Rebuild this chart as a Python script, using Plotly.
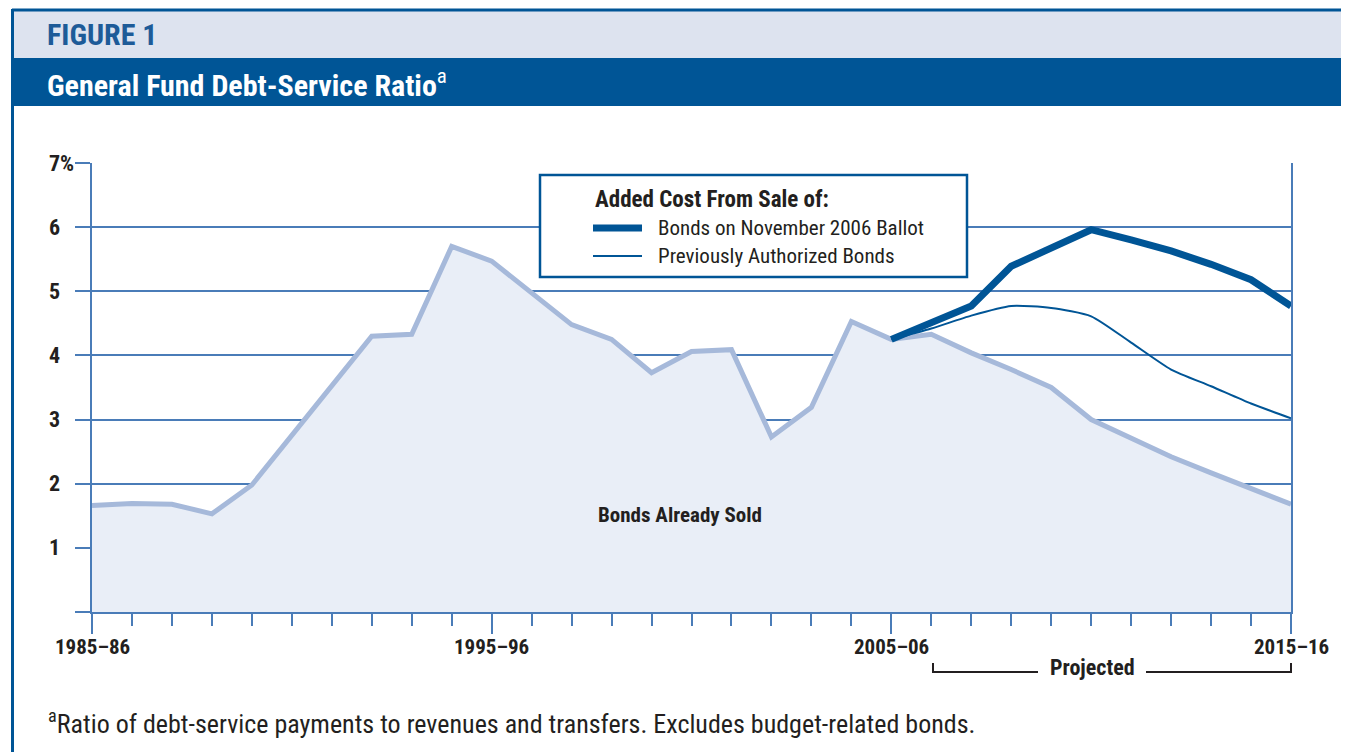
import plotly.graph_objects as go

# ---------------- data ----------------
start_years = list(range(1985, 2016))          # fiscal year start, 1985-86 ... 2015-16
tick_years = [1985, 1995, 2005, 2015]
tick_labels = ["1985–86", "1995–96", "2005–06", "2015–16"]

bonds_already_sold = [1.66, 1.69, 1.68, 1.53, 1.98, 2.75, 3.52, 4.30, 4.33, 5.70,
                      5.47, 4.97, 4.48, 4.25, 3.73, 4.06, 4.09, 2.73, 3.19, 4.53,
                      4.25, 4.33, 4.04, 3.78, 3.50, 3.00, 2.72, 2.42, 2.17, 1.93,
                      1.68]
proj_years = list(range(2005, 2016))
previously_authorized = [4.25, 4.42, 4.62, 4.77, 4.74, 4.61, 4.20, 3.78, 3.52, 3.25, 3.02]
november_2006_ballot = [4.25, 4.50, 4.77, 5.39, 5.68, 5.96, 5.80, 5.63, 5.42, 5.18, 4.77]

y_ticks = [0, 1, 2, 3, 4, 5, 6, 7]
y_labels = ["", "1", "2", "3", "4", "5", "6", "7%"]

# ---------------- styling ----------------
OFF = 8                      # page body margin
W, H = 1349 - OFF, 752 - OFF
PL, PR, PT, PB = 92, 1291, 163, 612   # plot area in page pixels
L, T = PL - OFF, PT - OFF
R = W - L - (PR - PL)
B = H - T - (PB - PT)
FONT = "Liberation Sans Narrow, Roboto Condensed, DejaVu Sans Condensed, Arial Narrow, Roboto, sans-serif"
DARK = "#005596"
GRID = "#4a7cb8"
TXT = "#231f20"
LIGHT_LINE = "#a6b9da"
FILL = "#e9eef7"


def px(x):
    return (x - PL) / (PR - PL)


def py(y):
    return (PB - y) / (PB - PT)


fig = go.Figure()
fig.add_trace(go.Scatter(x=start_years, y=bonds_already_sold, mode="lines",
                         line=dict(color=LIGHT_LINE, width=5), fill="tozeroy",
                         fillcolor=FILL, name="Bonds Already Sold", hoverinfo="skip"))
fig.add_trace(go.Scatter(x=proj_years, y=previously_authorized, mode="lines",
                         line=dict(color=DARK, width=2, shape="spline", smoothing=0.6),
                         name="Previously Authorized Bonds"))
fig.add_trace(go.Scatter(x=proj_years, y=november_2006_ballot, mode="lines",
                         line=dict(color=DARK, width=7), name="Bonds on November 2006 Ballot"))

shapes = []
# header bands
shapes.append(dict(type="rect", xref="paper", yref="paper", x0=px(12), x1=px(1360),
                   y0=py(58), y1=py(10), fillcolor="#dde3ef", line=dict(width=0), layer="below"))
shapes.append(dict(type="rect", xref="paper", yref="paper", x0=px(12), x1=px(1360),
                   y0=py(106), y1=py(58), fillcolor=DARK, line=dict(width=0), layer="below"))
shapes.append(dict(type="line", xref="paper", yref="paper", x0=px(12), x1=px(1360),
                   y0=py(10), y1=py(10), line=dict(color=DARK, width=3)))
shapes.append(dict(type="line", xref="paper", yref="paper", x0=px(12.5), x1=px(12.5),
                   y0=py(9), y1=py(760), line=dict(color=DARK, width=3)))
# legend box
shapes.append(dict(type="rect", xref="paper", yref="paper", x0=px(540), x1=px(967),
                   y0=py(277), y1=py(175), fillcolor="white", line=dict(color=DARK, width=2.5),
                   layer="above"))
shapes.append(dict(type="line", xref="paper", yref="paper", x0=px(593), x1=px(642),
                   y0=py(228), y1=py(228), line=dict(color=DARK, width=7)))
shapes.append(dict(type="line", xref="paper", yref="paper", x0=px(593), x1=px(642),
                   y0=py(256), y1=py(256), line=dict(color=DARK, width=2)))
# projected bracket
for x0, x1 in [(933, 1038), (1146, 1292)]:
    shapes.append(dict(type="line", xref="paper", yref="paper", x0=px(x0), x1=px(x1),
                       y0=py(672), y1=py(672), line=dict(color=TXT, width=2)))
for xx in [933, 1291]:
    shapes.append(dict(type="line", xref="paper", yref="paper", x0=px(xx), x1=px(xx),
                       y0=py(663), y1=py(673), line=dict(color=TXT, width=2)))

ann = []
ann.append(dict(text="<b>FIGURE 1</b>", x=px(45), y=py(35), xanchor="left", yanchor="middle",
                font=dict(family=FONT, size=30, color="#1d5b98")))
ann.append(dict(text="<b>General Fund Debt-Service Ratio</b><sup>a</sup>", x=px(45), y=py(83),
                xanchor="left", yanchor="middle", font=dict(family=FONT, size=30, color="white")))
for v, lab in zip(y_ticks, y_labels):
    if lab:
        ann.append(dict(text="<b>%s</b>" % lab, x=px(47), y=v, yref="y", xanchor="left",
                        yanchor="middle", font=dict(family=FONT, size=22, color=TXT)))
for v, lab in zip(tick_years, tick_labels):
    ann.append(dict(text="<b>%s</b>" % lab, x=v, xref="x", y=py(647), xanchor="center",
                    yanchor="middle", font=dict(family=FONT, size=21, color=TXT)))
ann.append(dict(text="<b>Added Cost From Sale of:</b>", x=px(593), y=py(199), xanchor="left",
                yanchor="middle", font=dict(family=FONT, size=23, color=TXT)))
ann.append(dict(text="Bonds on November 2006 Ballot", x=px(656), y=py(228), xanchor="left",
                yanchor="middle", font=dict(family=FONT, size=21, color=TXT)))
ann.append(dict(text="Previously Authorized Bonds", x=px(656), y=py(256), xanchor="left",
                yanchor="middle", font=dict(family=FONT, size=21, color=TXT)))
ann.append(dict(text="<b>Bonds Already Sold</b>", x=px(680), y=py(515), xanchor="center",
                yanchor="middle", font=dict(family=FONT, size=21, color=TXT)))
ann.append(dict(text="<b>Projected</b>", x=px(1092), y=py(667), xanchor="center",
                yanchor="middle", font=dict(family=FONT, size=22, color=TXT)))
ann.append(dict(text="<sup>a</sup>Ratio of debt-service payments to revenues and transfers. Excludes budget-related bonds.",
                x=px(46), y=py(722), xanchor="left", yanchor="middle",
                font=dict(family=FONT, size=26, color=TXT)))
for a in ann:
    a.setdefault("xref", "paper")
    a.setdefault("yref", "paper")
    a["showarrow"] = False

fig.update_layout(
    width=W, height=H, margin=dict(l=L, r=R, t=T, b=B),
    paper_bgcolor="white", plot_bgcolor="white", showlegend=False,
    shapes=shapes, annotations=ann,
    xaxis=dict(range=[1985, 2015], tickvals=tick_years, showticklabels=False,
               ticks="outside", ticklen=20, tickwidth=2, tickcolor=GRID,
               minor=dict(dtick=1, ticks="outside", ticklen=12, tickwidth=2, tickcolor=GRID, showgrid=False),
               showgrid=False, zeroline=False, showline=True, linecolor=GRID, linewidth=2),
    yaxis=dict(range=[0, 7], tickvals=y_ticks, showticklabels=False, ticks="outside",
               ticklen=15, tickwidth=2, tickcolor=GRID, showgrid=True, gridcolor=GRID,
               gridwidth=2, zeroline=False, showline=True, linecolor=GRID, linewidth=2,
               mirror=True),
)

fig.write_html("out.html")
